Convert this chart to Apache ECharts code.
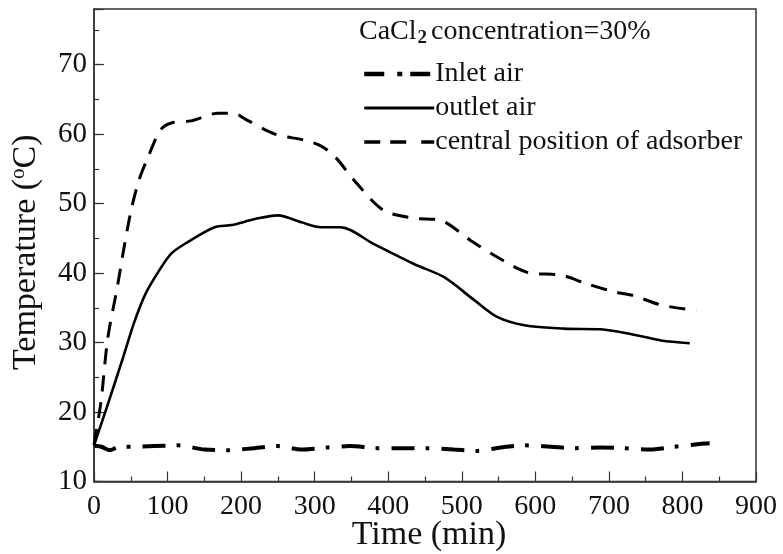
<!DOCTYPE html>
<html><head><meta charset="utf-8">
<script src="https://cdn.jsdelivr.net/npm/echarts@6/dist/echarts.min.js"></script>
<style>html,body{margin:0;padding:0;background:#fff}#c{width:783px;height:554px}</style>
</head><body><div id="c"></div>
<script>
// ---- data (time in min, temperature in °C) ----
const inletTime = [0, 10, 21, 35, 50, 82, 114, 150, 182, 218, 250, 282, 318, 348, 385, 417, 453, 489, 521, 553, 587, 621, 655, 689, 721, 755, 789, 823, 837];
const inletTemp = [15.2, 15.0, 14.5, 15.0, 15.0, 15.1, 15.2, 14.6, 14.5, 14.8, 15.1, 14.6, 14.9, 15.1, 14.8, 14.8, 14.8, 14.6, 14.4, 14.9, 15.2, 15.0, 14.8, 14.9, 14.8, 14.6, 15.0, 15.4, 15.5];

const outletTime = [0, 20, 40, 55, 70, 87, 105, 128, 164, 187, 220, 250, 282, 309, 335, 380, 435, 476, 517, 548, 585, 639, 689, 726, 771, 810];
const outletTemp = [15.2, 21.5, 28.0, 33.0, 37.0, 40.1, 42.8, 44.5, 46.6, 46.9, 47.8, 48.3, 47.3, 46.6, 46.6, 44.2, 41.3, 39.4, 36.1, 33.7, 32.5, 32.0, 31.9, 31.3, 30.3, 29.9];

const centralTime = [0, 9.5, 18.7, 31.9, 41.4, 50.4, 60.9, 73.2, 90.5, 105, 131.8, 168.6, 190, 205, 246, 287, 310, 328, 358, 394, 435, 471, 512, 548, 589, 635, 669, 707, 732, 771, 819];
const centralTemp = [15.3, 21.5, 30.6, 38.1, 44.0, 49.0, 53.3, 56.6, 60.6, 61.6, 61.9, 63.0, 63.0, 62.2, 60.0, 59.1, 58.2, 56.7, 52.8, 49.0, 47.9, 47.6, 44.7, 42.3, 40.1, 39.7, 38.5, 37.3, 36.8, 35.4, 34.6];

const seriesNames = ['Inlet air', 'outlet air', 'central position of adsorber'];
const xTicks = [0, 100, 200, 300, 400, 500, 600, 700, 800, 900];
const yTicks = [10, 20, 30, 40, 50, 60, 70];

const zip = (a, b) => a.map((v, i) => [v, b[i]]);
const FONT = "'Liberation Serif', 'Times New Roman', serif";
const INK = '#111';
const AX = '#333';

const styles = [
  {color: '#000', width: 4, type: [23, 11, 4, 12], cap: 'butt'},
  {color: '#000', width: 2.6, type: 'solid'},
  {color: '#000', width: 3, type: [16, 11], cap: 'butt'}
];
const legendStyles = [
  {color: '#000', width: 4.5, type: [20, 13, 5, 8], cap: 'butt'},
  {color: '#000', width: 3, type: 'solid'},
  {color: '#000', width: 3.5, type: [16, 10, 16, 15], cap: 'butt'}
];

const chart = echarts.init(document.getElementById('c'), null, {renderer: 'canvas'});
chart.setOption({
  animation: false,
  backgroundColor: '#fff',
  textStyle: {fontFamily: FONT, color: INK},
  title: {
    left: 354, top: 10,
    text: '{a|CaCl}{s|2}{a|concentration=30%}',
    textStyle: {
      rich: {
        a: {fontFamily: FONT, fontSize: 28, color: INK, fontWeight: 'normal'},
        s: {fontFamily: FONT, fontSize: 19, color: INK, padding: [14, 4, 0, 1]}
      }
    }
  },
  legend: {
    orient: 'vertical', left: 357, top: 53,
    itemWidth: 70, itemHeight: 20, itemGap: 2,
    data: seriesNames.map((n, i) => ({name: n, lineStyle: legendStyles[i], itemStyle: {opacity: 0}})),
    textStyle: {fontFamily: FONT, fontSize: 28, color: INK, lineHeight: 32, padding: [0, 0, 0, -4]}
  },
  grid: {left: 94, top: 9, width: 662, height: 472.5, show: true, borderColor: AX, borderWidth: 1.5,
    containLabel: false, outerBoundsMode: 'none'},
  xAxis: {
    type: 'value', min: xTicks[0], max: xTicks[xTicks.length - 1], interval: 100,
    name: 'Time (min)', nameLocation: 'middle', nameGap: 37, nameMoveOverlap: false,
    nameTextStyle: {fontFamily: FONT, fontSize: 34, color: INK, padding: [0, 0, 0, 8]},
    axisLine: {lineStyle: {color: AX, width: 1.5}},
    axisTick: {inside: true, length: 10, lineStyle: {color: AX, width: 1.2}},
    minorTick: {show: true, splitNumber: 2, length: 5, lineStyle: {color: AX, width: 1.2}},
    axisLabel: {fontFamily: FONT, fontSize: 28, color: INK, margin: 11},
    splitLine: {show: false}
  },
  yAxis: [{
    type: 'value', min: yTicks[0], max: 78, interval: 10,
    name: '{a|Temperature (}{s|o}{a|C)}', nameLocation: 'middle', nameGap: 50, nameMoveOverlap: false,
    nameTextStyle: {padding: [0, 14, 0, 0], rich: {
      a: {fontFamily: FONT, fontSize: 34, color: INK},
      s: {fontFamily: FONT, fontSize: 21, color: INK, padding: [0, 0, 15, 0]}
    }},
    axisLine: {lineStyle: {color: AX, width: 1.5}},
    axisTick: {inside: true, length: 10, lineStyle: {color: AX, width: 1.2}},
    axisLabel: {fontFamily: FONT, fontSize: 29, color: INK, margin: 7,
      formatter: v => (yTicks.indexOf(v) >= 0 ? String(v) : '')},
    splitLine: {show: false}
  }, {
    type: 'value', min: yTicks[0], max: 78, interval: 5, position: 'left',
    axisLine: {show: false},
    axisTick: {inside: true, length: 5, lineStyle: {color: AX, width: 1.2}},
    axisLabel: {show: false},
    splitLine: {show: false}
  }],
  series: seriesNames.map((n, i) => ({
    name: n, type: 'line', symbol: 'none', smooth: 0.3,
    data: [zip(inletTime, inletTemp), zip(outletTime, outletTemp), zip(centralTime, centralTemp)][i],
    lineStyle: styles[i], itemStyle: {color: '#000'}
  }))
});
</script></body></html>
